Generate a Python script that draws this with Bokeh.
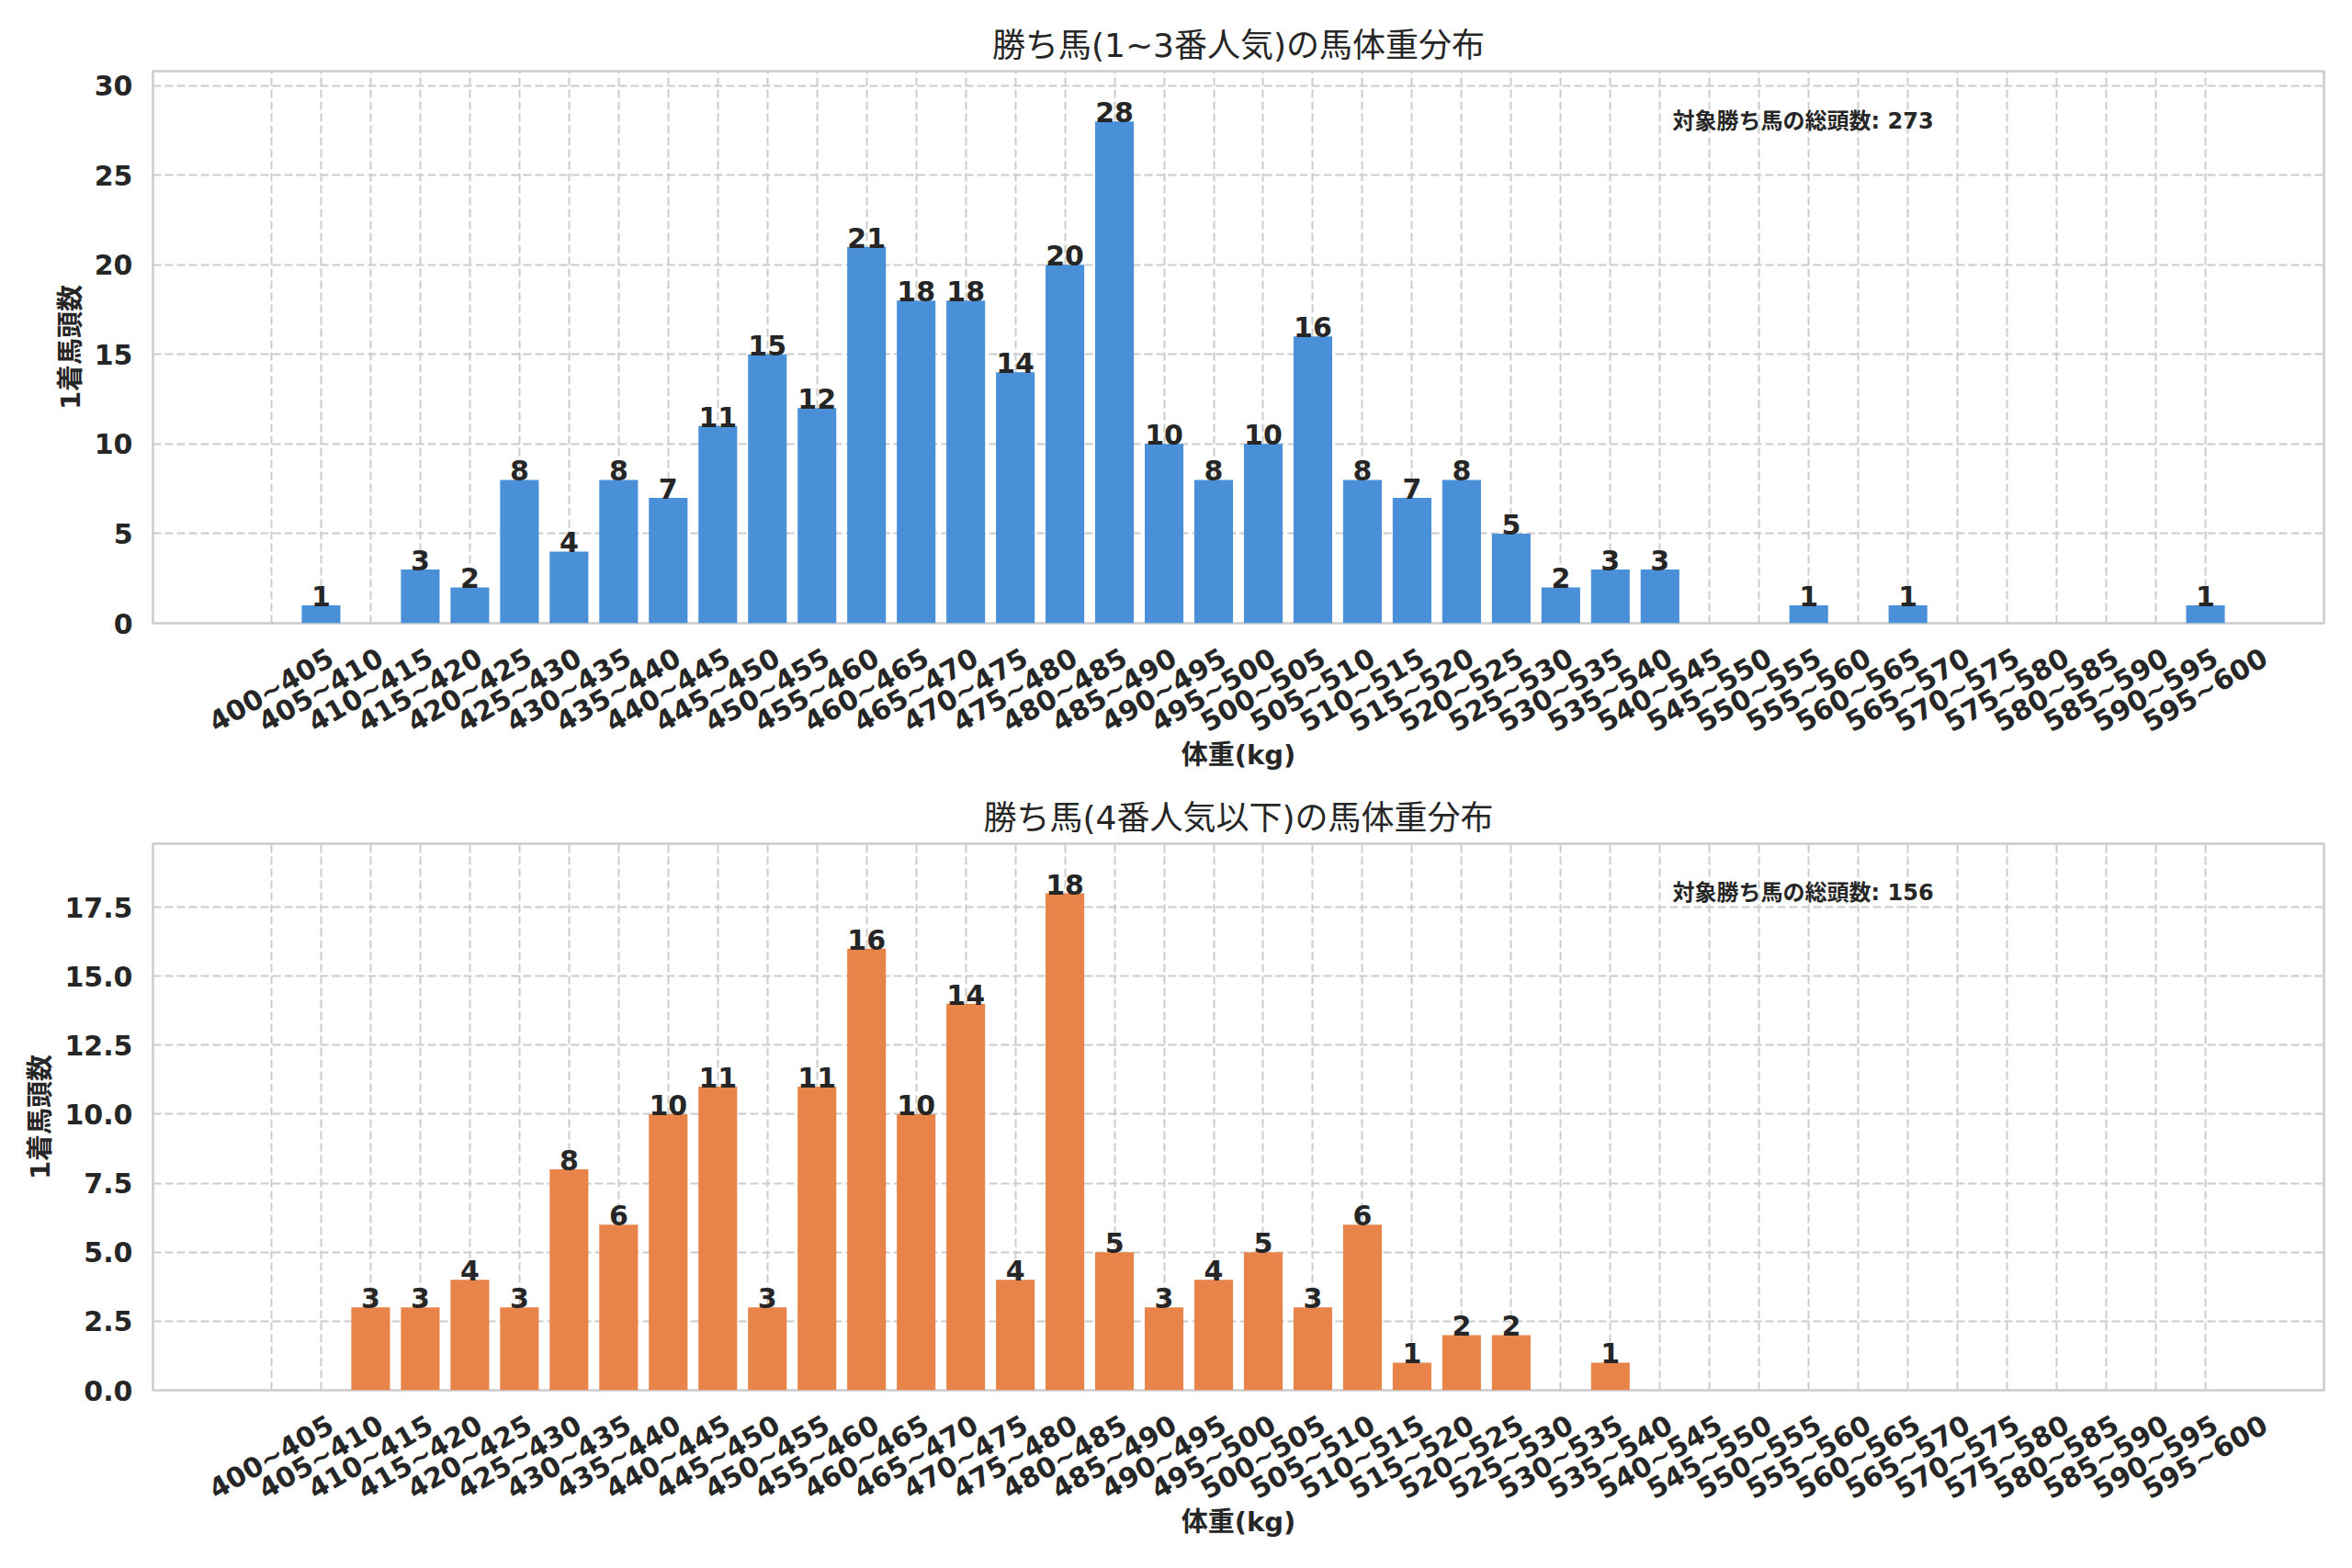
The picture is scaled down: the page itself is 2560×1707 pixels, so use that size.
from bokeh.plotting import figure
from bokeh.layouts import column
from bokeh.models import Range1d, FixedTicker, ColumnDataSource, Label, NumeralTickFormatter, LinearAxis
from bokeh.embed import file_html
from bokeh.resources import INLINE
import math

# ---------------- data ----------------
bin_labels = ["400~405", "405~410", "410~415", "415~420", "420~425", "425~430", "430~435", "435~440",
              "440~445", "445~450", "450~455", "455~460", "460~465", "465~470", "470~475", "475~480",
              "480~485", "485~490", "490~495", "495~500", "500~505", "505~510", "510~515", "515~520",
              "520~525", "525~530", "530~535", "535~540", "540~545", "545~550", "550~555", "555~560",
              "560~565", "565~570", "570~575", "575~580", "580~585", "585~590", "590~595", "595~600"]

counts_top = [0, 1, 0, 3, 2, 8, 4, 8, 7, 11, 15, 12, 21, 18, 18, 14, 20, 28, 10, 8,
              10, 16, 8, 7, 8, 5, 2, 3, 3, 0, 0, 1, 0, 1, 0, 0, 0, 0, 0, 1]
counts_bottom = [0, 0, 3, 3, 4, 3, 8, 6, 10, 11, 3, 11, 16, 10, 14, 4, 18, 5, 3, 4,
                 5, 3, 6, 1, 2, 2, 0, 1, 0, 0, 0, 0, 0, 0, 0, 0, 0, 0, 0, 0]

title_top = "勝ち馬(1~3番人気)の馬体重分布"
title_bottom = "勝ち馬(4番人気以下)の馬体重分布"
x_label = "体重(kg)"
y_label = "1着馬頭数"
note_label = "対象勝ち馬の総頭数"

y_ticks_top = [0, 5, 10, 15, 20, 25, 30]
y_ticks_bottom = [0, 2.5, 5, 7.5, 10, 12.5, 15, 17.5]

TEXT = "#262626"
FONT = "DejaVu Sans, Noto Sans CJK JP"
TICK_PX = 30
LABEL_SHIFT = 1.2   # centre rotated tick labels on their ticks (matplotlib ha="center")


def make_panel(counts, title, color, yticks, yfmt, height, mb_top, mb_bottom):
    n = len(counts)
    xs = list(range(n))
    x0 = -0.4 - 0.05 * (n - 0.2)
    x1 = (n - 1) + 0.4 + 0.05 * (n - 0.2)
    ymax = max(counts) * 1.1
    p = figure(width=2560, height=height, output_backend="svg", toolbar_location=None,
               x_range=Range1d(x0, x1), y_range=Range1d(0, ymax),
               min_border_left=166, min_border_right=31,
               min_border_top=mb_top, min_border_bottom=mb_bottom)
    p.background_fill_color = "white"
    p.border_fill_color = "white"
    p.outline_line_color = "#cccccc"
    p.outline_line_width = 2.5

    src = ColumnDataSource(dict(x=xs, top=counts))
    p.vbar(x="x", top="top", width=0.78, bottom=0, source=src,
           fill_color=color, line_color=None)

    lx = [x for x, c in zip(xs, counts) if c > 0]
    ly = [c for c in counts if c > 0]
    lsrc = ColumnDataSource(dict(x=lx, y=ly, t=[str(c) for c in ly]))
    p.text(x="x", y="y", text="t", source=lsrc, text_align="center",
           text_baseline="alphabetic", y_offset=-10, text_font_size=f"{TICK_PX}px",
           text_font_style="bold", text_color=TEXT, text_font={"value": "DejaVu Sans"})

    total = sum(counts)
    p.add_layout(Label(x=x0 + 0.70 * (x1 - x0), y=ymax * 0.91,
                       text=f"{note_label}: {total}", text_font_size="24px",
                       text_font_style="bold", text_color=TEXT, text_font=FONT,
                       text_baseline="middle", text_align="left"))

    # title
    p.title.text = title
    p.title.align = "center"
    p.title.text_font = FONT
    p.title.text_font_size = "36px"
    p.title.text_font_style = "normal"
    p.title.text_color = TEXT
    p.title.standoff = 15

    # x axis: main axis only drives the grid; a shifted twin axis carries the labels
    xt = FixedTicker(ticks=xs)
    p.xaxis.ticker = xt
    p.xgrid.ticker = xt
    p.xaxis.visible = False

    p.extra_x_ranges = {"lab": Range1d(x0 - LABEL_SHIFT, x1 - LABEL_SHIFT)}
    lab_axis = LinearAxis(x_range_name="lab", ticker=FixedTicker(ticks=xs))
    lab_axis.major_label_overrides = {i: bin_labels[i] for i in xs}
    lab_axis.major_label_orientation = math.pi / 6
    lab_axis.major_label_text_font = "DejaVu Sans"
    lab_axis.major_label_text_font_style = "bold"
    lab_axis.major_label_text_font_size = f"{TICK_PX}px"
    lab_axis.major_label_text_color = TEXT
    lab_axis.major_label_standoff = 35
    lab_axis.axis_label = x_label
    lab_axis.axis_label_text_font = FONT
    lab_axis.axis_label_text_font_style = "bold"
    lab_axis.axis_label_text_font_size = "29px"
    lab_axis.axis_label_text_color = TEXT
    lab_axis.axis_label_standoff = -17
    lab_axis.axis_line_color = None
    lab_axis.major_tick_line_color = None
    lab_axis.minor_tick_line_color = None
    lab_axis.major_tick_out = 0
    lab_axis.major_tick_in = 0
    p.add_layout(lab_axis, "below")

    # y axis
    yt = FixedTicker(ticks=yticks)
    p.yaxis.ticker = yt
    p.ygrid.ticker = yt
    p.yaxis.formatter = NumeralTickFormatter(format=yfmt)
    p.yaxis.major_label_text_font = "DejaVu Sans"
    p.yaxis.major_label_text_font_style = "bold"
    p.yaxis.major_label_text_font_size = f"{TICK_PX}px"
    p.yaxis.major_label_text_color = TEXT
    p.yaxis.major_label_standoff = 22
    p.yaxis.axis_label = y_label
    p.yaxis.axis_label_text_font = FONT
    p.yaxis.axis_label_text_font_style = "bold"
    p.yaxis.axis_label_text_font_size = "29px"
    p.yaxis.axis_label_text_color = TEXT
    p.yaxis.axis_label_standoff = 6
    p.yaxis.axis_line_color = None
    p.yaxis.major_tick_line_color = None
    p.yaxis.minor_tick_line_color = None
    p.yaxis.major_tick_out = 0
    p.yaxis.major_tick_in = 0

    for g in (p.xgrid, p.ygrid):
        g.grid_line_color = "#cccccc"
        g.grid_line_width = 2
        g.grid_line_dash = "9 4"
    return p


p1 = make_panel(counts_top, title_top, "#4a90d9", y_ticks_top, "0", 860, 77, 182)
p2 = make_panel(counts_bottom, title_bottom, "#e8844a", y_ticks_bottom, "0.0", 845, 56, 192)

layout = column(p1, p2, spacing=0)
open("out.html", "w").write(file_html(layout, INLINE))
